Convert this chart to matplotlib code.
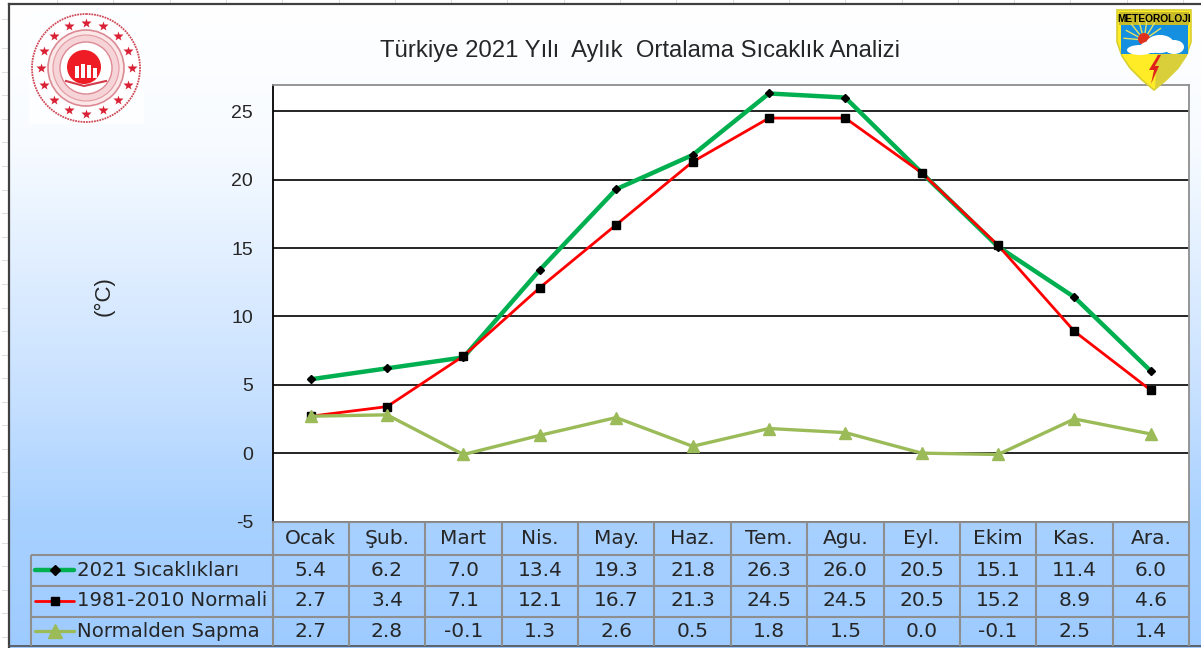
import numpy as np
import matplotlib
matplotlib.use("Agg")
import matplotlib.pyplot as plt
from matplotlib.colors import LinearSegmentedColormap
from matplotlib.patches import Circle, Polygon, Rectangle, Ellipse

plt.rcParams['font.family'] = ['Liberation Sans', 'DejaVu Sans']

months = ["Ocak", "Şub.", "Mart", "Nis.", "May.", "Haz.", "Tem.", "Agu.", "Eyl.", "Ekim", "Kas.", "Ara."]
temps_2021 = [5.4, 6.2, 7.0, 13.4, 19.3, 21.8, 26.3, 26.0, 20.5, 15.1, 11.4, 6.0]
normal_8110 = [2.7, 3.4, 7.1, 12.1, 16.7, 21.3, 24.5, 24.5, 20.5, 15.2, 8.9, 4.6]
deviation = [2.7, 2.8, -0.1, 1.3, 2.6, 0.5, 1.8, 1.5, 0.0, -0.1, 2.5, 1.4]
series_names = ["2021 Sıcaklıkları", "1981-2010 Normali", "Normalden Sapma"]
yticks = [-5, 0, 5, 10, 15, 20, 25]

W, H = 1201, 648
TXT = "#262626"
GRID_C = "#8e8e8e"
GREEN = "#00b050"
RED = "#ff0000"
OLIVE = "#9bbb59"
TABLE_FONT = ['DejaVu Sans']

fig = plt.figure(figsize=(W / 100, H / 100), dpi=100, facecolor="white")

# whole figure in pixel coords for frame and table
bg = fig.add_axes([0, 0, 1, 1])
bg.axis("off")

# spreadsheet cell marks outside the frame
for y in [19, 48, 72, 95, 119, 142, 166, 190, 213, 237, 260, 284, 308, 331, 355, 378, 402, 425, 449, 472, 496, 519, 543, 566, 590, 613, 637]:
    bg.plot([2, 9], [y, y], color="#dddddd", lw=0.7)
for x in np.arange(57, W, 56.3):
    bg.plot([x, x], [0, 4], color="#dddddd", lw=0.7)

cmap = LinearSegmentedColormap.from_list("bg", [(0, "#ffffff"), (0.22, "#f7fbff"), (0.6, "#c8e1ff"), (0.8, "#a8d1ff"), (1, "#9ecbff")])
bg.imshow(np.linspace(0, 1, 256).reshape(-1, 1), cmap=cmap, extent=[9, W, H, 4], aspect="auto", zorder=1)
bg.set_xlim(0, W)
bg.set_ylim(H, 0)
bg.plot([9, 9], [4, H], color="#404040", lw=1.6, zorder=2)
bg.plot([9, W], [4, 4], color="#404040", lw=1.6, zorder=2)
bg.plot([9, W], [646, 646], color="#505050", lw=1.2, zorder=2)

# chart axes
L, R, T, B = 272.5, 1189, 85, 521.5
ax = fig.add_axes([L / W, 1 - B / H, (R - L) / W, (B - T) / H], zorder=3)
ax.set_facecolor("white")
x = np.arange(len(months))
ax.set_xlim(-0.5, len(months) - 0.5)
ax.set_ylim(-5, 26.92)
ax.set_yticks(yticks)
ax.set_yticklabels(yticks, fontsize=14, color=TXT)
ax.set_xticks([])
ax.tick_params(axis="y", length=0, pad=14)
ax.grid(axis="y", color="black", lw=1.2)
ax.set_axisbelow(True)
for s in ["top", "right", "bottom"]:
    ax.spines[s].set_color(GRID_C)
    ax.spines[s].set_linewidth(1.3)
ax.spines["left"].set_color("black")
ax.spines["left"].set_linewidth(1.3)

ax.plot(x, temps_2021, color=GREEN, lw=3.2, marker="D", ms=4, mfc="black", mec="black", zorder=4, clip_on=False)
ax.plot(x, normal_8110, color=RED, lw=2, marker="s", ms=5.2, mfc="black", mec="black", zorder=5, clip_on=False)
ax.plot(x, deviation, color=OLIVE, lw=2.4, marker="^", ms=9, mfc=OLIVE, mec=OLIVE, zorder=6, clip_on=False)

fig.text(640 / W, 1 - 51 / H, "Türkiye 2021 Yılı  Aylık  Ortalama Sıcaklık Analizi", ha="center", va="center", fontsize=17.2, color=TXT, zorder=7)
fig.text(104 / W, 1 - 296 / H, "(°C)", ha="center", va="center", rotation=90, fontsize=16, color=TXT, zorder=7)

# data table below the axes
col_w = (R - L) / len(months)
row_y = [521.5, 554.5, 585.5, 616.5, 646]
left_x = 30.5
rows = [months, temps_2021, normal_8110, deviation]
tbl = dict(color=GRID_C, lw=1.5, zorder=3, solid_capstyle="butt")
bg.plot([L, R], [row_y[0], row_y[0]], **tbl)
for y in row_y[1:4]:
    bg.plot([left_x, R], [y, y], **tbl)
bg.plot([left_x, left_x], [row_y[1], row_y[4]], **tbl)
for i in range(len(months) + 1):
    bg.plot([L + i * col_w] * 2, [row_y[0], row_y[4]], **tbl)
for r, vals in enumerate(rows):
    yc = (row_y[r] + row_y[r + 1]) / 2
    for i, v in enumerate(vals):
        lab = v if r == 0 else f"{v:.1f}"
        bg.text(L + (i + 0.5) * col_w, yc, lab, ha="center", va="center", fontsize=14.5, family=TABLE_FONT, color=TXT, zorder=4)

# legend keys inside the table
key_styles = [
    dict(color=GREEN, lw=3.2),
    dict(color=RED, lw=2),
    dict(color=OLIVE, lw=2.4),
]
key_marks = [
    dict(marker="D", ms=4.6, mfc="black", mec="black"),
    dict(marker="s", ms=6, mfc="black", mec="black"),
    dict(marker="^", ms=10.5, mfc=OLIVE, mec=OLIVE),
]
for r, name in enumerate(series_names):
    yc = (row_y[r + 1] + row_y[r + 2]) / 2
    bg.plot([35, 74], [yc, yc], zorder=4, solid_capstyle="round", **key_styles[r])
    bg.plot([54.5], [yc], zorder=5, ls="none", **key_marks[r])
    bg.text(77, yc, name, ha="left", va="center", fontsize=14.2, family=TABLE_FONT, color=TXT, zorder=4)

# logos go on a transparent overlay, the shield tip lies over the plot
top = fig.add_axes([0, 0, 1, 1], zorder=10)
top.patch.set_alpha(0)
top.axis("off")

# ministry seal (approximate)
SEAL = "#d33a4a"
top.add_patch(Rectangle((29, 13), 115, 111, fc="#fdfeff", ec="none", zorder=2))
cx, cy = 86, 68
top.add_patch(Circle((cx, cy), 54, fc="white", ec="#cf4a58", lw=1.3, ls=(0, (1, 0.5)), zorder=3))
top.add_patch(Circle((cx, cy), 38, fc="#fbe6e8", ec="#dc8a94", lw=1.2, zorder=3))
top.add_patch(Circle((cx, cy), 33, fc="#f6d3d7", ec="#e39aa2", lw=0.8, zorder=3))
top.add_patch(Circle((cx, cy), 26, fc="white", ec="#dc8a94", lw=1.0, zorder=3))
top.add_patch(Circle((cx - 2, cy - 1), 17, fc="#ee1c25", ec="none", zorder=3))
for a in np.arange(16) * 2 * np.pi / 16:
    top.plot([cx + 45.5 * np.sin(a)], [cy - 45.5 * np.cos(a)], marker="*", ms=7, color="#d92035", mec="none", zorder=4)
for dx, dy in [(-9, 1), (-3, -1), (3, 0), (9, 3)]:
    top.add_patch(Rectangle((cx + dx - 2.2, cy - 3 + dy), 4.4, 13 - dy, fc="white", ec="none", zorder=4))
top.plot([cx - 20, cx - 2, cx + 20], [cy + 13, cy + 18, cy + 13], color=SEAL, lw=1.5, zorder=4)

# meteoroloji shield (approximate)
shield = [(1117, 10), (1191, 10), (1191, 42), (1186, 56), (1178, 68), (1166, 80), (1154, 90), (1142, 80), (1130, 68), (1122, 56), (1117, 42)]
top.add_patch(Polygon(shield, closed=True, fc="#ffec27", ec="#d9d030", lw=1.2, zorder=5))
top.add_patch(Polygon([(1157, 52), (1189, 52), (1186, 56), (1178, 68), (1166, 80), (1155, 89)], closed=True, fc="#d8cf3a", ec="none", zorder=5))
top.add_patch(Rectangle((1119, 12), 70, 13, fc="#c8bb2a", ec="none", zorder=6))
top.add_patch(Rectangle((1121, 25), 67, 29, fc="#1590e0", ec="none", zorder=6))
top.text(1154, 18.5, "METEOROLOJI", ha="center", va="center", fontsize=7.4, fontweight="bold", color="black", zorder=7)
for a in np.linspace(-85, 55, 7):
    t = np.radians(a)
    top.plot([1144, 1144 + 20 * np.sin(t)], [40, 40 - 20 * np.cos(t)], color="#e6e060", lw=1, zorder=6)
top.add_patch(Circle((1144, 39), 6, fc="#e0301e", ec="none", zorder=6))
for ex, ey, ew, eh in [(1140, 50, 26, 10), (1160, 44, 28, 18), (1174, 47, 20, 14), (1152, 47, 24, 12)]:
    top.add_patch(Ellipse((ex, ey), ew, eh, fc="white", ec="none", zorder=7))
top.add_patch(Polygon([(1158, 55), (1149, 70), (1154, 70), (1151, 84), (1159, 66), (1155, 66), (1161, 55)], closed=True, fc="#e0201a", ec="none", zorder=8))
top.set_xlim(0, W)
top.set_ylim(H, 0)

fig.savefig("out.png", dpi=100)
